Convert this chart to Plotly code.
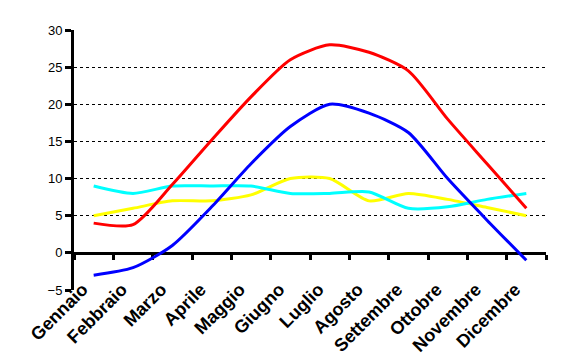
import plotly.graph_objects as go

months = ["Gennaio", "Febbraio", "Marzo", "Aprile", "Maggio", "Giugno",
          "Luglio", "Agosto", "Settembre", "Ottobre", "Novembre", "Dicembre"]
t_max = [4, 3.8, 9.2, 15.2, 21, 26, 28, 27, 24.5, 18, 12, 6]
t_min = [-3, -2, 1, 6.2, 12, 17, 20, 18.8, 16.2, 10, 4.4, -1]
serie_gialla = [5, 6, 7, 7, 7.8, 10, 10, 7, 8, 7.2, 6.1, 5]
serie_ciano = [9, 8, 9, 9, 9, 8, 8, 8.2, 6, 6.2, 7.2, 8]
y_ticks = [-5, 0, 5, 10, 15, 20, 25, 30]

fig = go.Figure()
for vals, col in [(serie_gialla, "#FFFF00"), (serie_ciano, "#00FFFF"),
                  (t_max, "#FF0000"), (t_min, "#0000FF")]:
    fig.add_trace(go.Scatter(x=months, y=vals, mode="lines",
                             line=dict(color=col, width=3, shape="spline", smoothing=0.7),
                             showlegend=False, hoverinfo="skip"))

fig.update_layout(
    width=563, height=362,
    margin=dict(l=74, r=17, t=30, b=72),
    paper_bgcolor="white", plot_bgcolor="white",
    showlegend=False,
    xaxis=dict(type="category", categoryorder="array", categoryarray=months,
               range=[-0.5, 11.5], anchor="free", position=5 / 35,
               showgrid=False, zeroline=False,
               showline=True, linecolor="black", linewidth=3,
               ticks="outside", tickson="boundaries", ticklen=5, tickwidth=2.5, tickcolor="black",
               layer="below traces",
               tickangle=-45, automargin=False, ticklabelstandoff=17, ticklabelshift=-11,
               tickfont=dict(family="Liberation Sans, Arial", size=18, color="black", weight="bold")),
    yaxis=dict(range=[-5, 30], tickmode="array", tickvals=y_ticks, automargin=False,
               showgrid=True, gridcolor="black", gridwidth=1, griddash="3px,3px",
               showline=True, linecolor="black", linewidth=3,
               zeroline=False,
               ticks="outside", ticklen=6, tickwidth=2.5, tickcolor="black",
               tickfont=dict(family="Liberation Sans, Arial", size=13, color="black")),
)

fig.write_html("out.html", config={"displayModeBar": False},
               post_script="document.body.style.margin='0';")
